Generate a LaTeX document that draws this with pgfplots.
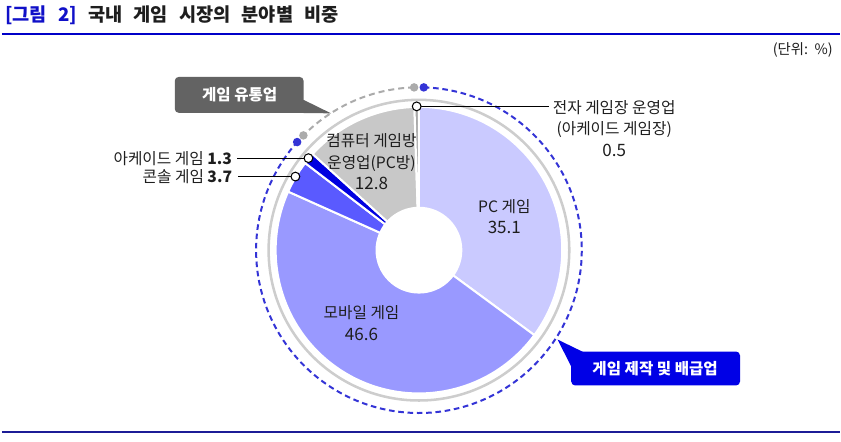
\documentclass[border=0pt]{standalone}
\usepackage{pgfplots}
\pgfplotsset{compat=1.18}
\usepackage{pgfplotstable}
\usepackage{fontspec}
\setmainfont{Noto Sans CJK KR}
\usetikzlibrary{calc}

\definecolor{cPC}{HTML}{CACAFF}
\definecolor{cMob}{HTML}{9999FF}
\definecolor{cCon}{HTML}{5A5AFF}
\definecolor{cArc}{HTML}{0000E0}
\definecolor{cRoom}{HTML}{C8C8C8}
\definecolor{cHall}{HTML}{A8A8A8}
\definecolor{ringgray}{HTML}{CDCDCD}
\definecolor{dashblue}{HTML}{3434D6}
\definecolor{dashgray}{HTML}{ABABAB}
\definecolor{boxgray}{HTML}{636363}
\definecolor{boxblue}{HTML}{0000E6}
\definecolor{titleblue}{HTML}{1010C8}
\definecolor{toprule}{HTML}{0000C8}
\definecolor{botrule}{HTML}{1C1C96}
\definecolor{txt}{HTML}{1E1E1E}

% market share by segment (%), clockwise from 12 o'clock
\pgfplotstableread{
seg   value  col
PC    35.1   cPC
Mob   46.6   cMob
Con   3.7    cCon
Arc   1.3    cArc
Room  12.8   cRoom
Hall  0.5    cHall
}\shares

\newcommand\lbl{\fontsize{11.8}{16}\selectfont}
\newcommand\num{\fontsize{12.8}{16}\selectfont}
\newcommand\boxlbl{\fontsize{11.7}{14}\selectfont\bfseries}

\begin{document}
\begin{tikzpicture}
\begin{axis}[
    x=0.75pt, y=0.75pt,
    xmin=0, xmax=841, ymin=0, ymax=442,
    y dir=reverse,
    hide axis,
    clip=false,
]
\pgfplotsextra{
  \path (axis cs:0,0) rectangle (axis cs:841,442);
  \coordinate (C) at (axis cs:419.5,250.5);
  % slices
  \gdef\cum{0}
  \foreach \i in {0,...,5}{
    \pgfplotstablegetelem{\i}{value}\of\shares \let\sv\pgfplotsretval
    \pgfplotstablegetelem{\i}{col}\of\shares \let\sc\pgfplotsretval
    \pgfmathsetmacro{\sa}{90-3.6*\cum}
    \pgfmathsetmacro{\sb}{\sa-3.6*\sv}
    \pgfmathsetmacro{\sm}{(\sa+\sb)/2}
    \fill[fill=\sc, draw=white, line width=1.5pt, line join=round]
      (C) -- ++(\sa:107.6pt) arc[start angle=\sa, end angle=\sb, radius=107.6pt] -- cycle;
    \coordinate (m\i) at ($(C)+(\sm:108pt)$);
    \pgfmathsetmacro{\nc}{\cum+\sv}\xdef\cum{\nc}
  }
  % hole and outer ring
  \fill[white] (C) circle[radius=32.6pt];
  \draw[ringgray, line width=1.9pt] (C) circle[radius=112.9pt];
  % group arcs
  \draw[dashblue, line width=1.5pt, dash pattern=on 4.2pt off 2.8pt]
    ($(C)+(88.3:122.3pt)$) arc[start angle=88.3, end angle=-221.6, radius=122.3pt];
  \draw[dashgray, line width=1.5pt, dash pattern=on 4.5pt off 3pt]
    ($(C)+(91.7:122.3pt)$) arc[start angle=91.7, end angle=135.2, radius=122.3pt];
  \fill[dashblue] ($(C)+(88.3:122.3pt)$) circle[radius=3.2pt];
  \fill[dashblue] ($(C)+(-221.6:122.3pt)$) circle[radius=3.2pt];
  \fill[dashgray] ($(C)+(91.7:122.3pt)$) circle[radius=3.2pt];
  \fill[dashgray] ($(C)+(135.2:122.3pt)$) circle[radius=3.2pt];
  % slice labels
  \node[align=center, font=\lbl, text=txt] at (axis cs:505,217) {PC 게임\\{\num 35.1}};
  \node[align=center, font=\lbl, text=txt] at (axis cs:362,323.5) {모바일 게임\\{\num 46.6}};
  \node[align=center, font=\lbl, text=txt] at (axis cs:372,162) {컴퓨터 게임방\\운영업(PC방)\\{\num 12.8}};
  % callouts
  \draw[line width=0.8pt] (m5) -- ++(99pt,0);
  \node[align=center, font=\lbl, text=txt] at (axis cs:615,128.5) {전자 게임장 운영업\\(아케이드 게임장)\\{\num 0.5}};
  \draw[line width=0.8pt] (m3) -- ++(-53.3pt,0) node[anchor=east, font=\lbl, text=txt, inner sep=3.7pt] {아케이드 게임 \textbf{1.3}};
  \draw[line width=0.8pt] (m2) -- ++(-43.4pt,0) node[anchor=east, font=\lbl, text=txt, inner sep=3.7pt] {콘솔 게임 \textbf{3.7}};
  \foreach \k in {5,3,2}{\filldraw[fill=white, draw=black, line width=0.8pt] (m\k) circle[radius=3.3pt];}
  % group boxes
  \fill[boxgray, rounded corners=3pt] (axis cs:175,77) rectangle (axis cs:304,113);
  \fill[boxgray] (axis cs:292,113) -- (axis cs:304,100) -- (axis cs:331.5,113.5) -- cycle;
  \node[font=\boxlbl, text=white] at (axis cs:240,95) {게임 유통업};
  \fill[boxblue, rounded corners=3pt] (axis cs:572,352) rectangle (axis cs:741,386);
  \fill[boxblue] (axis cs:558.3,340) -- (axis cs:584,352.5) -- (axis cs:572,367) -- cycle;
  \node[font=\boxlbl, text=white] at (axis cs:656,369) {게임 제작 및 배급업};
  % title, unit and rules
  \node[anchor=west, inner sep=0pt, font=\fontsize{14}{16}\selectfont\bfseries, text=txt]
    at (axis cs:5,15.5) {\spaceskip=0.6em\textcolor{titleblue}{[그림 2]} 국내 게임 시장의 분야별 비중};
  \draw[toprule, line width=1.7pt] (axis cs:2,33.8) -- (axis cs:841,33.8);
  \node[anchor=east, inner sep=0pt, font=\fontsize{10.8}{12}\selectfont, text=txt] at (axis cs:834,50) {(단위:\ \ \%)};
  \draw[botrule, line width=1.6pt] (axis cs:2,433) -- (axis cs:841,433);
}
\end{axis}
\end{tikzpicture}
\end{document}
